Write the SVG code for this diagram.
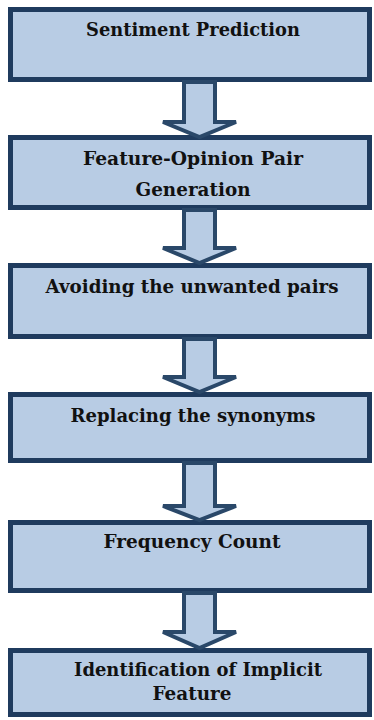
<svg xmlns="http://www.w3.org/2000/svg" width="374" height="720" viewBox="0 0 374 720">
<style>
.box{fill:#b8cce4;stroke:#1f3b5e;stroke-width:5}
.arr{fill:#b8cce4;stroke:#2a4869;stroke-width:4;stroke-linejoin:miter}
text{font-family:'DejaVu Serif',serif;font-weight:bold;font-size:19px;fill:#111;text-anchor:middle}
</style>
<rect width="374" height="720" fill="#ffffff"/>
<g id="n1"><rect class="box" x="10.5" y="9.5" width="359" height="70"/><text x="193" y="36" textLength="214" lengthAdjust="spacingAndGlyphs">Sentiment Prediction</text></g>
<g id="n2"><rect class="box" x="10.5" y="137.5" width="359" height="70"/><text x="193" y="165" textLength="220" lengthAdjust="spacingAndGlyphs">Feature-Opinion Pair</text><text x="193" y="196" textLength="115" lengthAdjust="spacingAndGlyphs">Generation</text></g>
<g id="n3"><rect class="box" x="10.5" y="265.5" width="359" height="71"/><text x="192" y="293" textLength="293" lengthAdjust="spacingAndGlyphs">Avoiding the unwanted pairs</text></g>
<g id="n4"><rect class="box" x="10.5" y="394.5" width="359" height="66"/><text x="193" y="422" textLength="245" lengthAdjust="spacingAndGlyphs">Replacing the synonyms</text></g>
<g id="n5"><rect class="box" x="10.5" y="522.5" width="359" height="68"/><text x="192" y="548" textLength="177" lengthAdjust="spacingAndGlyphs">Frequency Count</text></g>
<g id="n6"><rect class="box" x="10.5" y="650.5" width="359" height="64"/><text x="198" y="676" textLength="248" lengthAdjust="spacingAndGlyphs">Identification of Implicit</text><text x="192" y="700" textLength="79" lengthAdjust="spacingAndGlyphs">Feature</text></g>
<g id="connectors">
<polygon class="arr" points="184,82 215,82 215,122 236,122 199.5,137 163,122 184,122"/>
<polygon class="arr" points="184,210 215,210 215,248 236,248 199.5,263 163,248 184,248"/>
<polygon class="arr" points="184,339 215,339 215,377 236,377 199.5,392 163,377 184,377"/>
<polygon class="arr" points="184,463 215,463 215,506 236,506 199.5,520 163,506 184,506"/>
<polygon class="arr" points="184,593 215,593 215,632 236,632 199.5,648 163,632 184,632"/>
</g>
</svg>
